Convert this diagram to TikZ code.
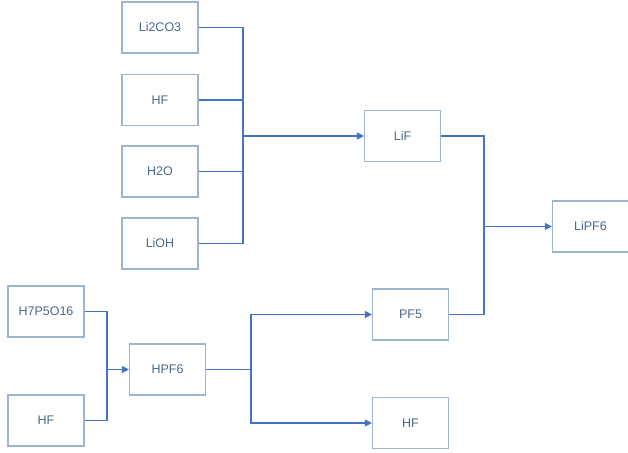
\documentclass[tikz,border=0pt]{standalone}
\usepackage{fontspec}
\setmainfont{Liberation Sans}
\usetikzlibrary{arrows.meta}
\definecolor{boxc}{HTML}{9FB5CF}
\definecolor{linec}{HTML}{4472C4}
\definecolor{textc}{HTML}{4A6889}
\tikzset{
  chem/.style={draw=boxc, line width=1.1pt, minimum width=76pt, minimum height=51pt, inner sep=0pt, text=textc, font=\fontsize{12.5}{14}\selectfont},
  conn/.style={draw=linec, line width=1.1pt},
  arr/.style={conn, -{Triangle[length=7pt,width=7pt]}}
}
\begin{document}
\begin{tikzpicture}[x=1pt,y=-1pt]
\useasboundingbox (0,0) rectangle (628,452);
\node[chem] (li2co3) at (160,27.5) {Li2CO3};
\node[chem] (hf1) at (160,100) {HF};
\node[chem] (h2o) at (160,171.5) {H2O};
\node[chem] (lioh) at (160,243.5) {LiOH};
\node[chem] (lif) at (402.5,136) {LiF};
\node[chem] (pf5) at (410.5,314.5) {PF5};
\node[chem] (hf3) at (410.5,423) {HF};
\node[chem] (lipf6) at (590.5,226.5) {LiPF6};
\node[chem] (h7) at (46,311.5) {H7P5O16};
\node[chem] (hf2) at (46,420.5) {HF};
\node[chem] (hpf6) at (167.5,369.5) {HPF6};
\coordinate (j1) at (243,136);
\coordinate (j2) at (484,226.5);
\coordinate (j3) at (107,369.5);
\coordinate (j4) at (251,369.5);
% top group
\draw[conn] (li2co3.east) -| (j1);
\draw[conn] (hf1.east) -| (j1);
\draw[conn] (h2o.east) -| (j1);
\draw[conn] (lioh.east) -| (j1);
\draw[arr] (j1) -- (lif.west);
% LiF + PF5 -> LiPF6
\draw[conn] (lif.east) -| (j2);
\draw[conn] (pf5.east) -| (j2);
\draw[arr] (j2) -- (lipf6.west);
% bottom-left group
\draw[conn] (h7.east) -| (j3);
\draw[conn] (hf2.east) -| (j3);
\draw[arr] (j3) -- (hpf6.west);
% HPF6 -> PF5, HF
\draw[conn] (hpf6.east) -- (j4);
\draw[arr] (j4) |- (pf5.west);
\draw[arr] (j4) |- (hf3.west);
\end{tikzpicture}
\end{document}
